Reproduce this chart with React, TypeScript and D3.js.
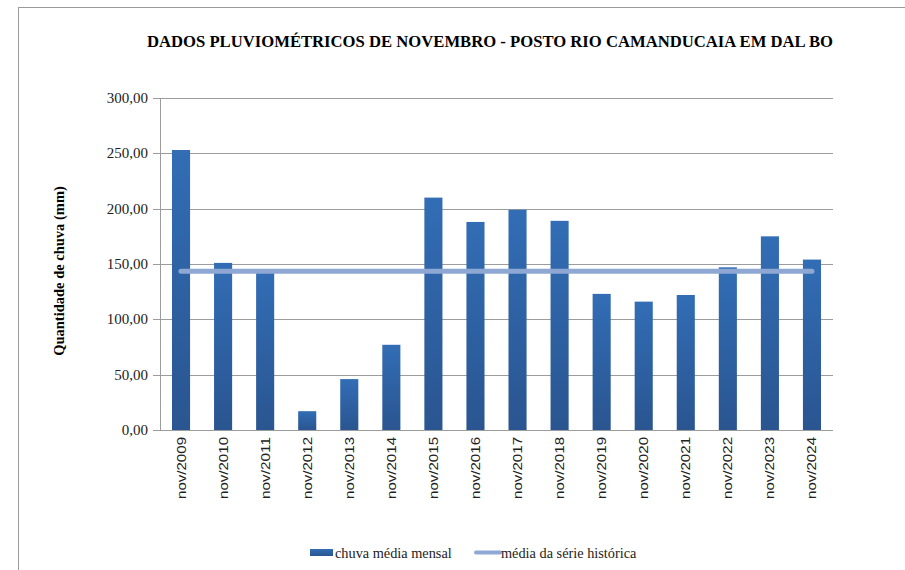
import React from "react";
import * as d3 from "d3";

const categories = ["nov/2009","nov/2010","nov/2011","nov/2012","nov/2013","nov/2014","nov/2015","nov/2016","nov/2017","nov/2018","nov/2019","nov/2020","nov/2021","nov/2022","nov/2023","nov/2024"];
const rainfall = [253, 151, 142, 17, 46, 77, 210, 188, 199, 189, 123, 116, 122, 147, 175, 154];
const historicalMean = 143.5;
const yTicks = [0, 50, 100, 150, 200, 250, 300];
const title = "DADOS PLUVIOMÉTRICOS DE NOVEMBRO - POSTO RIO CAMANDUCAIA EM DAL BO";
const yTitle = "Quantidade de chuva (mm)";
const legendLabels = ["chuva média mensal", "média da série histórica"];

const W = 905, H = 570;
const plot = { left: 160, right: 833, top: 98, bottom: 430 };
const serif = "Liberation Serif, DejaVu Serif, serif";
const sans = "Liberation Sans, Arial, sans-serif";

export default function App() {
  const x = d3.scaleBand<string>().domain(categories).range([plot.left, plot.right]).paddingInner(0.57).paddingOuter(0.285);
  const y = d3.scaleLinear().domain([0, 300]).range([plot.bottom, plot.top]);
  const fmt = (v: number) => v.toFixed(2).replace(".", ",");
  const cx = (c: string) => (x(c) as number) + x.bandwidth() / 2;
  const meanLine = d3.line<string>().x(c => cx(c)).y(() => y(historicalMean));
  const ends = [categories[0], categories[categories.length - 1]];
  return (
    <div style={{ position: "absolute", left: 0, top: 0 }}>
      <svg width={W} height={H} style={{ display: "block" }}>
        <defs>
          <linearGradient id="barG" x1="0" y1="0" x2="0" y2="1">
            <stop offset="0" stopColor="#326db5" />
            <stop offset="1" stopColor="#2a5590" />
          </linearGradient>
        </defs>
        <rect x={0} y={0} width={W} height={H} fill="#fff" />
        <rect x={18.5} y={7.5} width={W} height={H} fill="none" stroke="#9a9a9a" strokeWidth={1} />
        <text x={147} y={47} textLength={686} lengthAdjust="spacingAndGlyphs" style={{ fontFamily: serif }} fontWeight="bold" fontSize={16.5} fill="#000">{title}</text>
        {yTicks.map(t => (
          <g key={t}>
            <line x1={plot.left - 7} x2={plot.right} y1={Math.round(y(t)) + 0.5} y2={Math.round(y(t)) + 0.5} stroke="#9c9c9c" strokeWidth={1} />
            <text x={plot.left - 12} y={y(t) + 5} textAnchor="end" style={{ fontFamily: serif }} fontSize={15} fill="#222">{fmt(t)}</text>
          </g>
        ))}
        <line x1={plot.left + 0.5} x2={plot.left + 0.5} y1={plot.top} y2={plot.bottom} stroke="#9c9c9c" />
        {categories.map((c, i) => (
          <rect key={c} x={x(c)} y={y(rainfall[i])} width={x.bandwidth()} height={y(0) - y(rainfall[i])} fill="url(#barG)" />
        ))}
        <path d={meanLine(ends) || ""} stroke="#8ea8d3" strokeWidth={5} strokeLinecap="round" fill="none" />
        {categories.map(c => (
          <text key={c} transform={`translate(${cx(c) + 4.5},${plot.bottom + 7}) rotate(-90)`} textAnchor="end" textLength={62} lengthAdjust="spacingAndGlyphs" style={{ fontFamily: sans }} fontSize={13} fill="#222">{c}</text>
        ))}
        <text transform={`translate(64,271) rotate(-90)`} textAnchor="middle" style={{ fontFamily: serif }} fontWeight="bold" fontSize={14.5} fill="#000">{yTitle}</text>
        <rect x={310} y={549} width={23} height={7} fill="url(#barG)" />
        <text x={335} y={557.5} style={{ fontFamily: serif }} fontSize={14.3} fill="#222">{legendLabels[0]}</text>
        <line x1={476} x2={500} y1={552.5} y2={552.5} stroke="#8ea8d3" strokeWidth={4} strokeLinecap="round" />
        <text x={501} y={557.5} style={{ fontFamily: serif }} fontSize={14.3} fill="#222">{legendLabels[1]}</text>
      </svg>
    </div>
  );
}
